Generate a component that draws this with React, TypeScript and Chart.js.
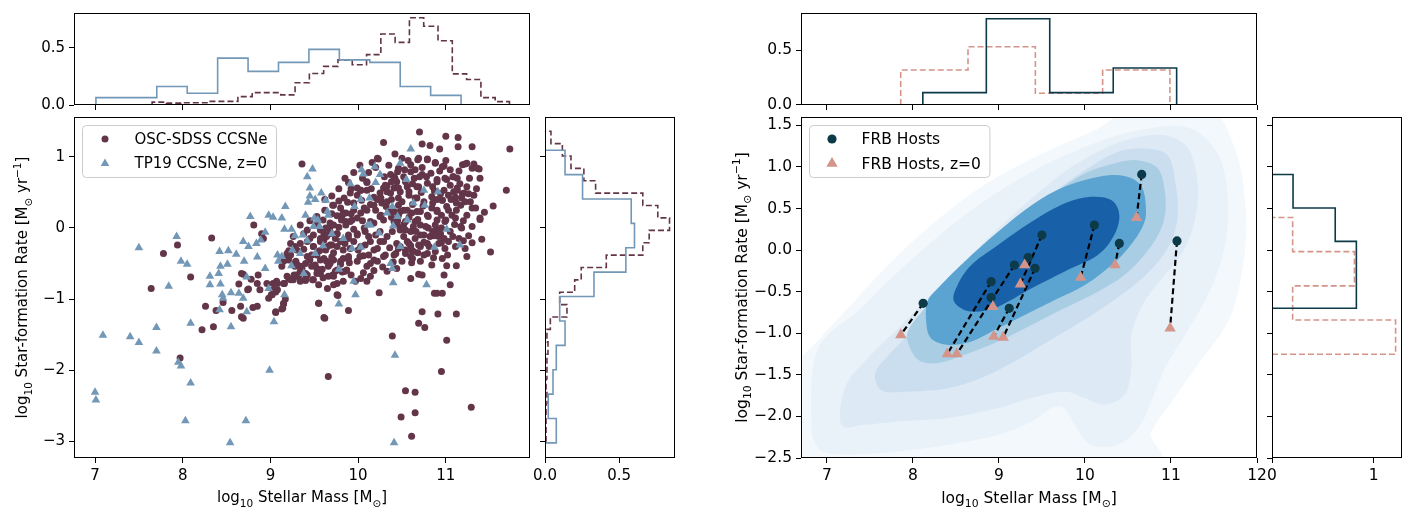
import React, { useEffect, useRef } from 'react';
import { Chart, registerables } from 'chart.js';
Chart.register(...registerables);

const W = 1420;
const H = 512;
const FONT = "'DejaVu Sans', sans-serif";
const FS_L = 15;
const FS_R = 15.5;
const AXW = 70;
const AXH = 50;

const MAROON = '#633548';
const STEEL = '#7398b7';
const TEAL = '#0c3a48';
const PINK = '#d4948a';

// ---------------- data: left panel scatter ----------------
const oscCCSNe: [number, number][] = [
  [7.64,-0.85],[7.78,-0.36],[7.94,-0.24],[7.97,-1.83],[8.09,-0.69],[8.26,-1.10],[8.33,-0.14],[8.22,-1.43],[8.35,-1.39],[8.38,-1.16],
  [8.46,-1.05],[8.56,-1.16],[8.64,-0.79],[8.66,-1.10],[8.69,-0.65],[8.69,-1.27],[8.74,-0.87],[8.78,-0.72],[8.80,-1.12],[8.85,-1.10],
  [8.81,0.04],[8.85,-0.78],[8.86,-0.66],[8.88,-0.87],[8.90,-0.08],[8.92,-0.15],[8.98,-0.99],[9.01,-0.94],[9.03,-0.78],[9.06,-0.90],
  [9.07,-0.77],[9.08,-0.87],[9.06,-1.18],[9.14,-1.13],[9.15,-1.06],[9.16,-0.78],[9.17,-0.44],[9.21,-0.32],[9.28,-0.26],[9.30,-0.51],[9.32,-0.68],
  [9.71,0.32],[8.67,-0.64],[8.75,-0.86],[8.96,-0.78],[9.07,-0.75],[9.04,-0.87],[9.02,-0.94],[8.67,-1.25],[9.06,-1.19],[9.29,-0.47],
  [9.36,-0.57],[9.30,-0.68],[9.23,-0.73],[9.42,-0.66],[9.49,-0.73],[9.55,-1.06],[9.61,-1.26],[9.66,-0.54],[9.76,-0.78],[9.76,-0.94],
  [9.72,-0.68],[9.57,-0.64],[9.72,-0.45],[9.53,-0.38],[9.61,-0.17],[9.70,-0.24],[9.61,-0.08],[9.76,-0.08],[9.68,0.02],[9.81,0.11],[9.83,0.21],
  [9.36,0.90],[10.29,1.20],[10.70,1.35],[11.00,1.29],[11.14,1.27],[10.73,1.18],[10.82,1.16],[10.93,1.11],[11.14,1.14],[11.30,1.14],
  [11.73,1.11],[10.42,1.04],[10.23,0.97],[11.69,0.53],[11.54,0.31],[11.41,-0.16],[11.51,-0.34],[11.30,-0.21],[11.26,-0.11],[11.17,0.02],
  [11.39,0.12],[11.44,0.22],[11.39,0.70],[11.38,0.83],[11.32,0.90],[11.22,0.90],[11.24,-0.40],[11.12,-0.53],[11.05,-0.80],[10.98,-0.66],
  [10.96,-0.92],[10.90,-0.92],[10.87,-0.92],[11.01,-0.53],[10.95,-0.21],[10.87,-0.11],[10.69,-0.65],[10.73,-0.66],[10.60,-0.71],[10.61,-0.49],
  [10.84,-0.52],[10.73,-1.18],[10.69,-1.34],[10.76,-1.40],[10.91,-1.21],[11.12,-1.21],[11.01,-1.58],[10.39,-1.52],[10.95,-2.02],[9.66,-2.09],
  [10.54,-2.29],[10.65,-2.31],[10.65,-2.60],[10.49,-2.66],[10.61,-2.93],[11.29,-2.52],[10.24,-0.91],[10.10,-0.75],[10.03,-0.71],[9.89,-1.16],
  [9.77,-0.95],[9.62,-1.27],[9.55,-1.06],[9.72,-0.80],[9.83,-0.75],[9.90,-0.49],[9.85,-0.61],[10.06,-0.63],[10.14,-0.50],[10.18,-0.45],
  [9.71,-0.66],[9.66,-0.68],[9.59,-0.58],[9.48,-0.73],[9.40,-0.74],[9.34,-0.75],[9.26,-0.73],[9.21,-0.71],[9.15,-0.78],[9.17,-1.00],
  [9.13,-1.14],[9.15,-1.07],[9.30,-0.66],[9.40,-0.64],[9.57,-0.45],[9.47,-0.54],[9.53,-0.57],[9.63,-0.31],[9.70,-0.41],[9.80,-0.51],
  [9.83,-0.43],[9.89,-0.40],[9.68,-0.24],[9.74,-0.15],[9.68,-0.05],[9.78,0.01],[9.76,0.17],[9.80,0.28],[9.72,0.32],[9.89,0.64],
  [9.99,0.56],[10.03,0.53],[10.10,0.64],[10.10,0.53],[10.18,0.43],[10.25,0.49],[10.29,0.56],[10.33,0.59],[10.41,0.72],[10.45,0.79],
  [10.53,0.82],[10.60,0.79],[10.65,0.82],[10.68,0.96],[10.79,0.97],[10.88,0.92],[10.98,0.87],[11.08,0.72],[11.13,0.70],[11.13,0.56],
  [11.11,0.43],[11.22,0.37],[11.30,0.28],[11.32,0.46],[11.24,0.58],[11.19,0.48],[11.01,0.68],[10.90,0.68],[10.79,0.63],[10.69,0.58],
  [10.98,0.53],[11.09,0.51],[10.96,0.39],[10.85,0.35],[10.90,0.25],[11.01,0.30],[11.07,0.18],[11.00,0.11],[10.90,0.11],[10.80,0.16],
  [10.71,0.23],[10.61,0.21],[10.52,0.25],[10.46,0.32],[10.48,0.51],[10.58,0.46],[10.67,0.42],[10.56,0.58],[10.37,0.49],[10.27,0.35],
  [10.33,0.37],[10.41,0.23],[10.29,0.11],[10.44,0.04],[10.54,-0.03],[10.63,0.02],[10.71,0.04],[10.80,0.00],[10.90,-0.03],[10.75,-0.10],
  [10.65,-0.15],[10.56,-0.19],[10.44,-0.22],[10.61,-0.31],[10.71,-0.26],[10.79,-0.22],[10.79,-0.36],[10.54,-0.31],[10.43,-0.36],[10.29,-0.40],
  [10.18,-0.31],[10.08,-0.24],[10.00,-0.31],[10.06,-0.39],[9.95,-0.19],[9.89,-0.10],[9.99,-0.08],[10.08,-0.05],[10.20,-0.10],[10.25,-0.19],
  [10.33,-0.12],[10.18,0.07],[10.25,0.16],[10.20,0.25],[10.10,0.25],[10.03,0.21],[9.93,0.11],[9.86,0.04],[9.86,0.21],[9.95,0.35],
  [10.04,0.39],[9.99,0.46],[9.84,0.42],[9.91,0.49],[10.14,0.33],[9.68,0.07],[9.60,0.11],[9.53,0.16],[9.57,-0.03],[9.49,-0.10],
  [9.42,-0.03],[9.34,0.04],[9.26,-0.12],[9.34,-0.22],[9.23,-0.22],[9.30,-0.31],[9.19,-0.36],[9.42,-0.40],[9.49,-0.26],[9.57,-0.19],
  [9.76,-0.26],[9.83,-0.31],[9.64,-0.47],[9.76,-0.59],[9.13,-0.54],[9.21,-0.45],[9.28,-0.50],[9.34,-0.54],
  [10.22,0.98],[10.10,0.65],[10.03,0.53],[9.82,0.18],[9.86,0.09],[9.72,0.04],[9.68,-0.08],[9.76,-0.08],[9.63,0.00],[9.57,-0.15],
  [9.80,-0.19],[9.89,-0.15],[9.99,-0.10],[9.91,-0.29],[10.03,-0.26],[10.14,-0.19],[10.22,-0.29],[10.29,-0.19],[10.39,-0.05],[10.41,0.09],
  [10.35,0.23],[10.26,0.18],[10.18,0.32],[10.26,0.42],[10.33,0.51],[10.41,0.56],[10.31,0.60],[10.37,0.75],[10.46,0.84],[10.44,0.65],
  [10.14,0.09],[10.07,0.00],[9.99,0.14],[9.91,0.09],[10.07,0.28],[9.95,0.25],[9.47,-0.38],[9.40,-0.50],[9.51,-0.52],[9.61,-0.43],
  [9.68,-0.50],[9.53,-0.64],[9.34,-0.61],[9.27,-0.66],[9.28,-0.54],[9.19,-0.68],[9.40,-0.71],[9.65,-0.26],[9.49,-0.26],[9.42,-0.19],
  [9.23,-0.38],[9.15,-0.47],[9.89,-0.43],[9.80,-0.47],[9.99,-0.47],[9.74,-0.61],[9.87,-0.59],[10.10,-0.54],[10.22,-0.47],[10.31,-0.38],
  [10.41,-0.38],[10.46,-0.29],[10.44,-0.57],[10.33,-0.61],[10.14,-0.68],[9.97,-0.75],[10.48,0.23],[10.48,0.00],[10.46,0.42],[9.55,-0.80],
  [9.65,-0.85],[9.08,-0.78],[9.04,-0.87],
  [10.50,0.98],[10.60,0.89],[10.69,0.98],[10.79,0.96],[10.88,0.91],[10.96,0.86],[10.83,0.77],[10.73,0.75],[10.64,0.70],[10.54,0.65],
  [10.46,0.56],[10.58,0.51],[10.67,0.58],[10.90,0.65],[10.99,0.70],[11.09,0.72],[11.19,0.89],[11.24,0.91],[11.30,0.84],[11.36,0.84],
  [11.13,0.53],[11.21,0.49],[11.03,0.46],[10.96,0.39],[10.84,0.44],[10.75,0.37],[10.65,0.42],[10.50,0.37],[10.56,0.25],[10.67,0.23],
  [10.79,0.18],[10.90,0.23],[11.03,0.25],[11.17,0.32],[11.28,0.37],[11.34,0.28],[11.39,0.14],[11.24,0.18],[11.11,0.14],[10.99,0.09],
  [10.88,0.04],[10.77,0.02],[10.65,0.09],[10.54,0.09],[10.46,0.18],[10.48,-0.03],[10.60,-0.05],[10.71,-0.10],[10.82,-0.12],[10.94,-0.08],
  [11.05,-0.05],[11.18,0.00],[11.15,-0.15],[11.03,-0.19],[10.92,-0.22],[10.81,-0.26],[10.69,-0.24],[10.58,-0.22],[10.48,-0.26],[10.54,-0.36],
  [10.63,-0.33],[10.75,-0.38],[10.88,-0.33],[10.99,-0.29],[11.11,-0.26],[11.22,-0.29],[10.50,-0.47],[10.62,-0.43],[10.71,-0.47],[10.96,-0.43],
  [9.62,0.25],[9.70,0.45],[9.78,0.55],[9.85,0.70],[9.95,0.78],[10.02,0.88],[10.12,0.78],[10.16,0.92],[10.35,0.88],[10.38,0.65],
  [10.52,0.72],[10.57,0.95],[10.62,0.62],[10.73,0.85],[10.78,0.72],[10.85,0.58],[10.93,0.80],[11.05,0.82],[11.05,0.60],[11.16,0.62],
  [11.27,0.70],[11.35,0.55],[11.26,0.48],[11.12,0.35],[11.06,0.40],[10.94,0.48],[10.87,0.52],[10.72,0.50],[10.62,0.33],[10.58,0.15],
  [10.68,0.12],[10.74,0.31],[10.84,0.28],[10.95,0.18],[11.12,0.25],[11.20,0.10],[11.30,0.02],[11.10,0.05],[10.95,0.00],[10.85,-0.05],
  [10.66,-0.05],[10.52,0.05],[10.38,0.15],[10.32,0.30],[10.22,0.40],[10.15,0.55],[10.05,0.70],[9.92,0.55],[9.88,0.36],[9.78,0.38],
  [9.70,0.20],[9.64,-0.12],[9.72,-0.35],[9.85,-0.22],[9.95,-0.02],[10.05,0.10],[10.12,-0.12],[10.02,-0.40],[10.12,-0.38],[10.25,-0.05],
  [10.36,-0.28],[10.52,-0.12],[10.60,-0.40],[10.68,-0.35],[10.86,-0.42],[10.92,-0.12],[11.02,-0.38],[11.08,-0.12],[11.20,-0.18],[10.40,-0.48],
  [10.28,-0.55],[10.18,-0.60],[9.92,-0.66],[9.82,-0.62],[9.60,-0.70],[9.45,-0.45],[9.38,-0.30],[9.45,-0.15],[9.52,0.05],[9.45,0.10],
  [9.38,-0.08],[9.56,-0.32],[9.62,0.40],[9.92,0.20],[10.38,0.40],[10.42,0.70],[10.30,0.72],[10.20,0.85],[10.90,0.40],[11.15,0.80],
  [11.00,0.95],[10.70,0.72],[10.45,0.10],[10.60,-0.25],[10.75,-0.20],[10.98,-0.15],[11.18,0.42],
];

const tp19CCSNe: [number, number][] = [
  [7.00,-2.31],[7.01,-2.42],[7.09,-1.51],[7.40,-1.53],[7.50,-1.61],[7.50,-0.28],[7.70,-1.73],[7.95,-1.89],[7.98,-1.94],[8.09,-2.18],
  [8.03,-2.71],[8.54,-3.02],[8.72,-2.71],[8.99,-2.00],[9.03,0.15],
  [7.93,-0.12],[7.98,-0.47],[8.05,-0.51],[7.84,-0.82],[7.70,-1.40],[8.09,-1.34],[8.55,-1.39],[8.42,-0.33],[8.52,-0.32],[8.61,-0.37],
  [8.43,-0.54],[8.41,-0.64],[8.31,-0.68],[8.43,-0.79],[8.31,-0.80],[8.45,-0.94],[8.46,-0.99],[8.55,-0.91],[8.64,-0.92],[8.69,-0.99],
  [8.51,-0.51],[8.70,-0.47],[8.73,-0.69],[8.85,-0.41],[8.69,-0.19],[8.77,0.16],[8.98,0.18],[8.75,-0.26],[8.84,-0.22],[8.89,-0.17],
  [8.94,-0.06],[9.08,-0.38],[9.09,-0.47],[8.94,-0.57],[8.98,-0.85],[8.73,-1.18],[9.04,-1.32],[8.42,-1.15],
  [9.48,0.83],[9.42,0.72],[9.45,0.56],[9.45,0.45],[9.43,0.36],[9.51,0.40],[9.58,0.49],[9.63,0.39],[9.17,0.30],[9.13,0.14],
  [9.16,-0.02],[9.24,-0.02],[9.28,-0.11],[9.37,-0.10],[9.40,0.18],[9.50,0.14],[9.54,0.11],[9.49,0.02],[9.56,0.02],[9.65,0.23],
  [9.66,0.18],[9.70,-0.08],[9.83,-0.15],[9.93,-0.29],[10.03,-0.27],[9.42,-0.18],[9.60,-0.25],[9.51,-0.36],[9.34,-0.36],[9.25,-0.31],
  [9.13,-0.40],[9.24,-0.53],[9.38,-0.64],[9.16,-0.94],[9.78,-0.58],[9.95,-0.75],[9.97,-0.94],[9.78,-1.07],[9.91,0.62],[10.04,0.82],
  [10.06,0.76],[10.19,0.86],[10.25,0.75],[10.20,0.64],[10.03,0.40],[10.13,0.42],[9.96,0.30],[10.14,0.04],[10.33,0.21],[10.39,0.30],
  [10.11,0.04],[10.24,-0.07],[10.40,0.03],[10.45,0.16],[10.56,0.11],[10.48,0.91],[10.60,1.11],[10.55,0.68],[10.63,0.35],[10.75,0.53],
  [10.76,0.32],[10.91,0.51],[11.01,-0.02],[10.48,-0.26],[10.37,-0.50],[10.39,-0.57],[10.40,-0.77],[10.87,-0.27],[11.16,-0.24],[10.78,-0.80],
  [10.42,-1.79],[10.41,-3.02],
];

// ---------------- data: left panel histograms (density) ----------------
const tp19MassEdges = [7.01,7.357,7.704,8.051,8.398,8.745,9.092,9.439,9.786,10.133,10.48,10.827,11.174];
const tp19MassDensity = [0.065,0.065,0.162,0.103,0.411,0.295,0.373,0.487,0.395,0.373,0.162,0.084];
const oscMassEdges = [7.651,7.814,7.977,8.14,8.303,8.466,8.629,8.792,8.955,9.118,9.281,9.444,9.607,9.77,9.933,10.096,10.259,10.422,10.585,10.748,10.911,11.074,11.237,11.4,11.563,11.726];
const oscMassDensity = [0.025,0.016,0.02,0.02,0.032,0.032,0.073,0.108,0.108,0.089,0.195,0.276,0.338,0.395,0.352,0.441,0.622,0.549,0.765,0.69,0.563,0.273,0.224,0.065,0.03];
const tp19SfrEdges = [-3.023,-2.68,-2.337,-1.994,-1.651,-1.308,-0.965,-0.622,-0.279,0.064,0.407,0.75,1.093];
const tp19SfrDensity = [0.076,0.022,0.054,0.076,0.135,0.099,0.33,0.545,0.603,0.581,0.253,0.135];
const oscSfrEdges = [-2.995,-2.821,-2.647,-2.472,-2.298,-2.124,-1.95,-1.776,-1.601,-1.427,-1.253,-1.079,-0.905,-0.73,-0.556,-0.382,-0.208,-0.034,0.141,0.315,0.489,0.663,0.837,1.011,1.186,1.36];
const oscSfrDensity = [0.007,0.007,0.007,0.013,0.007,0.013,0.013,0.02,0.013,0.036,0.148,0.099,0.2,0.244,0.413,0.659,0.702,0.839,0.76,0.659,0.341,0.262,0.175,0.117,0.04];

// ---------------- data: right panel ----------------
const frbHosts: [number, number][] = [
  [8.12,-0.64],[8.91,-0.38],[9.18,-0.18],[8.91,-0.57],[9.12,-0.70],[9.42,-0.22],
  [9.34,-0.09],[9.50,0.18],[10.11,0.30],[10.40,0.08],[10.66,0.91],[11.07,0.11],
];
const frbHostsZ0: [number, number][] = [
  [7.86,-1.02],[8.40,-1.25],[8.51,-1.25],[8.93,-0.68],[8.94,-1.04],[9.05,-1.05],
  [9.30,-0.18],[9.25,-0.41],[9.95,-0.33],[10.35,-0.18],[10.60,0.39],[10.99,-0.94],
];
const frbMassEdges = [8.116,8.854,9.591,10.329,11.066];
const frbMassDensity = [0.113,0.79,0.113,0.339];
const z0MassEdges = [7.859,8.641,9.424,10.206,10.988];
const z0MassDensity = [0.32,0.533,0.107,0.32];
const frbSfrEdges = [-0.7,-0.298,0.104,0.506,0.908];
const frbSfrDensity = [0.83,0.83,0.622,0.207];
const z0SfrEdges = [-1.252,-0.841,-0.43,-0.019,0.392];
const z0SfrDensity = [1.216,0.203,0.811,0.203];

// KDE filled-contour levels (outer -> inner)
const kdeColors = ['#f3f8fc','#e9f1f9','#dde9f5','#cadef0','#a9cee4','#5ba3d0','#1860a8'];
const kdeL1: [number, number][] = [[6.55,-2.65],[6.55,-1.35],[6.69,-1.3],[7.2,-0.75],[7.83,-0.06],[8.6,0.62],[9.38,1.1],[10.15,1.46],[10.54,1.7],[11.43,1.7],[11.75,1.2],[11.86,0.6],[11.86,0.0],[11.7,-0.78],[11.31,-1.38],[11.04,-1.78],[10.77,-2.18],[10.54,-2.65]];
const kdeL2: [number, number][] = [[6.82,-1.98],[6.9,-1.18],[7.4,-0.7],[7.83,-0.26],[8.6,0.42],[9.38,0.94],[10.15,1.3],[10.73,1.46],[11.23,1.46],[11.55,1.14],[11.66,0.62],[11.62,0.02],[11.43,-0.54],[11.16,-1.02],[10.93,-1.42],[10.77,-1.82],[10.62,-2.14],[10.38,-2.34],[10.07,-2.34],[9.88,-2.1],[9.76,-1.9],[9.61,-1.9],[9.38,-2.06],[8.99,-2.22],[8.41,-2.34],[7.83,-2.42],[7.24,-2.46],[6.9,-2.38]];
const kdeL3: [number, number][] = [[7.17,-2.1],[7.21,-1.66],[7.44,-1.34],[7.83,-0.94],[8.21,-0.54],[8.6,-0.14],[8.99,0.26],[9.38,0.62],[9.76,0.94],[10.15,1.18],[10.54,1.34],[10.93,1.38],[11.2,1.22],[11.31,0.82],[11.29,0.42],[11.16,0.02],[10.93,-0.3],[10.69,-0.62],[10.54,-1.02],[10.54,-1.42],[10.46,-1.74],[10.23,-1.86],[10.0,-1.78],[9.76,-1.7],[9.38,-1.78],[8.99,-1.9],[8.41,-2.02],[7.83,-2.06],[7.44,-2.1]];
const kdeL4: [number, number][] = [[7.57,-1.58],[7.59,-1.42],[7.83,-1.14],[8.14,-0.82],[8.48,-0.46],[8.87,-0.06],[9.26,0.34],[9.65,0.7],[10.03,0.98],[10.38,1.18],[10.69,1.22],[10.96,1.14],[11.05,0.82],[11.08,0.42],[11.0,0.1],[10.85,-0.14],[10.62,-0.38],[10.31,-0.62],[9.96,-0.86],[9.57,-1.1],[9.18,-1.34],[8.79,-1.54],[8.41,-1.66],[7.98,-1.7],[7.67,-1.7]];
const kdeL5: [number, number][] = [[7.94,-1.1],[7.96,-0.94],[8.14,-0.7],[8.41,-0.42],[8.79,-0.06],[9.18,0.3],[9.57,0.62],[9.96,0.9],[10.34,1.04],[10.61,1.08],[10.85,0.98],[10.93,0.7],[10.93,0.42],[10.85,0.18],[10.69,-0.06],[10.46,-0.3],[10.15,-0.5],[9.76,-0.7],[9.38,-0.9],[8.99,-1.1],[8.6,-1.26],[8.29,-1.36],[8.06,-1.32]];
const kdeL6: [number, number][] = [[8.155,-0.86],[8.17,-0.62],[8.29,-0.46],[8.6,-0.14],[8.99,0.22],[9.38,0.54],[9.76,0.76],[10.15,0.88],[10.46,0.89],[10.66,0.76],[10.71,0.46],[10.66,0.26],[10.5,0.02],[10.31,-0.18],[10.0,-0.42],[9.61,-0.62],[9.3,-0.78],[8.99,-0.94],[8.68,-1.1],[8.41,-1.14],[8.21,-1.06]];
const kdeL7: [number, number][] = [[8.48,-0.62],[8.52,-0.42],[8.68,-0.18],[8.99,0.06],[9.38,0.34],[9.76,0.56],[10.07,0.64],[10.31,0.6],[10.4,0.42],[10.34,0.18],[10.15,-0.06],[9.76,-0.26],[9.38,-0.46],[8.99,-0.68],[8.68,-0.74]];
const kdeLevels = [kdeL1, kdeL2, kdeL3, kdeL4, kdeL5, kdeL6, kdeL7];

// ---------------- ticks ----------------
const massTicksLeft = [7, 8, 9, 10, 11];
const sfrTicksLeft = [-3, -2, -1, 0, 1];
const massTicksRight = [7, 8, 9, 10, 11, 12];
const sfrTicksRight = [-2.5, -2, -1.5, -1, -0.5, 0, 0.5, 1, 1.5];
const densTicksHalf = [0, 0.5];
const densTicksUnit = [0, 1];

// ---------------- helpers ----------------
type Box = { l: number; t: number; r: number; b: number };
const BOX = {
  lMain: { l: 74, t: 117, r: 530, b: 458 },
  lTop: { l: 74, t: 7, r: 530, b: 105 },
  lSide: { l: 545, t: 117, r: 675, b: 458 },
  rMain: { l: 801, t: 117, r: 1257, b: 458 },
  rTop: { l: 801, t: 7, r: 1257, b: 105 },
  rSide: { l: 1272, t: 117, r: 1402, b: 458 },
};

const MINUS = '\u2212';
const fmtInt = (v: number) => (v < 0 ? MINUS : '') + String(Math.abs(v));
const fmt1 = (v: number) => (v < 0 ? MINUS : '') + Math.abs(v).toFixed(1);

function axis(pos: 'x' | 'y', min: number, max: number, ticks: number[], labels: ((v: number) => string) | null, fs: number) {
  return {
    type: 'linear',
    position: pos === 'x' ? 'bottom' : 'left',
    min,
    max,
    afterBuildTicks: (s: any) => {
      s.ticks = ticks.map((v) => ({ value: v }));
    },
    afterFit: (s: any) => {
      if (pos === 'x') s.height = AXH;
      else s.width = AXW;
    },
    grid: { display: true, drawOnChartArea: false, drawTicks: true, tickLength: 5, color: '#000', lineWidth: 1 },
    border: { display: false },
    ticks: {
      display: !!labels,
      autoSkip: false,
      maxRotation: 0,
      minRotation: 0,
      padding: 4,
      color: '#000',
      font: { family: FONT, size: fs },
      callback: (v: any) => (labels ? labels(Number(v)) : ''),
    },
  };
}

function stepV(edges: number[], h: number[]) {
  const pts: { x: number; y: number }[] = [{ x: edges[0], y: 0 }];
  h.forEach((v, i) => {
    pts.push({ x: edges[i], y: v }, { x: edges[i + 1], y: v });
  });
  pts.push({ x: edges[edges.length - 1], y: 0 });
  return pts;
}
function stepH(edges: number[], h: number[]) {
  const pts: { x: number; y: number }[] = [{ x: 0, y: edges[0] }];
  h.forEach((v, i) => {
    pts.push({ x: v, y: edges[i] }, { x: v, y: edges[i + 1] });
  });
  pts.push({ x: 0, y: edges[edges.length - 1] });
  return pts;
}
function histDs(pts: { x: number; y: number }[], color: string, dashed: boolean) {
  return {
    data: pts,
    showLine: true,
    pointRadius: 0,
    borderColor: color,
    borderWidth: 1.6,
    borderDash: dashed ? [6, 3] : [],
    fill: false,
    tension: 0,
  };
}
function scatterDs(pts: [number, number][], color: string, style: string, r: number) {
  return {
    data: pts.map(([x, y]) => ({ x, y })),
    pointStyle: style,
    pointRadius: r,
    backgroundColor: color,
    borderColor: color,
    borderWidth: 0,
    showLine: false,
  };
}

const framePlugin = {
  id: 'frame',
  afterDatasetsDraw(chart: any) {
    const { ctx, chartArea: a } = chart;
    ctx.save();
    ctx.strokeStyle = '#000';
    ctx.lineWidth = 1;
    ctx.strokeRect(Math.round(a.left) + 0.5, Math.round(a.top) + 0.5, Math.round(a.right - a.left) - 1, Math.round(a.bottom - a.top) - 1);
    ctx.restore();
  },
};

type Seg = { t: string; s?: 'sub' | 'sup' };
const X_TITLE: Seg[] = [{ t: 'log' }, { t: '10', s: 'sub' }, { t: ' Stellar Mass [M' }, { t: '\u2299', s: 'sub' }, { t: ']' }];
const Y_TITLE: Seg[] = [{ t: 'log' }, { t: '10', s: 'sub' }, { t: ' Star-formation Rate [M' }, { t: '\u2299', s: 'sub' }, { t: ' yr' }, { t: MINUS + '1', s: 'sup' }, { t: ']' }];

function drawRich(ctx: CanvasRenderingContext2D, segs: Seg[], cx: number, cy: number, rot: boolean, fs: number) {
  ctx.save();
  ctx.translate(cx, cy);
  if (rot) ctx.rotate(-Math.PI / 2);
  const small = fs * 0.7;
  const widths = segs.map((sg) => {
    ctx.font = `${sg.s ? small : fs}px ${FONT}`;
    return ctx.measureText(sg.t).width;
  });
  const total = widths.reduce((a, b) => a + b, 0);
  let x = -total / 2;
  ctx.fillStyle = '#000';
  ctx.textAlign = 'left';
  ctx.textBaseline = 'alphabetic';
  const base = fs * 0.36;
  segs.forEach((sg, i) => {
    ctx.font = `${sg.s ? small : fs}px ${FONT}`;
    const dy = sg.s === 'sub' ? fs * 0.28 : sg.s === 'sup' ? -fs * 0.45 : 0;
    ctx.fillText(sg.t, x, base + dy);
    x += widths[i];
  });
  ctx.restore();
}

function titlesPlugin(yOff: number, fs: number) {
  return {
    id: 'axTitles',
    afterDraw(chart: any) {
      const { ctx, chartArea: a } = chart;
      drawRich(ctx, X_TITLE, (a.left + a.right) / 2, a.bottom + 39, false, fs);
      drawRich(ctx, Y_TITLE, a.left - yOff, (a.top + a.bottom) / 2, true, fs);
    },
  };
}

function drawMarker(ctx: CanvasRenderingContext2D, style: string, x: number, y: number, r: number, color: string) {
  ctx.fillStyle = color;
  ctx.beginPath();
  if (style === 'triangle') {
    const s = Math.sin(Math.PI / 3) * r;
    ctx.moveTo(x, y - r);
    ctx.lineTo(x + s, y + r / 2);
    ctx.lineTo(x - s, y + r / 2);
    ctx.closePath();
  } else {
    ctx.arc(x, y, r, 0, Math.PI * 2);
  }
  ctx.fill();
}

type LegItem = { label: string; style: string; color: string; r: number };
function legendPlugin(items: LegItem[], fs: number) {
  return {
    id: 'mplLegend',
    afterDatasetsDraw(chart: any) {
      const { ctx, chartArea: a } = chart;
      ctx.save();
      ctx.font = `${fs}px ${FONT}`;
      const tw = Math.max(...items.map((it) => ctx.measureText(it.label).width));
      const x0 = a.left + 8.5;
      const y0 = a.top + 8.5;
      const w = 52 + tw + 9;
      const h = 52;
      ctx.beginPath();
      (ctx as any).roundRect(x0, y0, w, h, 4);
      ctx.fillStyle = 'rgba(255,255,255,0.8)';
      ctx.fill();
      ctx.strokeStyle = '#cccccc';
      ctx.lineWidth = 1;
      ctx.stroke();
      items.forEach((it, i) => {
        const cy = y0 + 13.5 + i * 24.5;
        drawMarker(ctx, it.style, x0 + 22.5, cy, it.r, it.color);
        ctx.fillStyle = '#000';
        ctx.font = `${fs}px ${FONT}`;
        ctx.textAlign = 'left';
        ctx.textBaseline = 'middle';
        ctx.fillText(it.label, x0 + 52, cy + 1);
      });
      ctx.restore();
    },
  };
}

function smoothClosed(ctx: CanvasRenderingContext2D, p: number[][]) {
  const n = p.length;
  ctx.moveTo(p[0][0], p[0][1]);
  for (let i = 0; i < n; i++) {
    const p0 = p[(i - 1 + n) % n];
    const p1 = p[i];
    const p2 = p[(i + 1) % n];
    const p3 = p[(i + 2) % n];
    ctx.bezierCurveTo(
      p1[0] + (p2[0] - p0[0]) / 6, p1[1] + (p2[1] - p0[1]) / 6,
      p2[0] - (p3[0] - p1[0]) / 6, p2[1] - (p3[1] - p1[1]) / 6,
      p2[0], p2[1]
    );
  }
  ctx.closePath();
}

const kdePlugin = {
  id: 'kde',
  beforeDatasetsDraw(chart: any) {
    const { ctx, chartArea: a, scales } = chart;
    ctx.save();
    ctx.beginPath();
    ctx.rect(a.left, a.top, a.right - a.left, a.bottom - a.top);
    ctx.clip();
    kdeLevels.forEach((poly, i) => {
      const px = poly.map(([x, y]) => [scales.x.getPixelForValue(x), scales.y.getPixelForValue(y)]);
      ctx.beginPath();
      smoothClosed(ctx, px);
      ctx.fillStyle = kdeColors[i];
      ctx.fill();
    });
    ctx.restore();
  },
};

function build(canvas: HTMLCanvasElement, box: Box, scales: any, datasets: any[], plugins: any[]) {
  return new Chart(canvas, {
    type: 'scatter',
    data: { datasets },
    options: {
      responsive: false,
      animation: false,
      events: [],
      devicePixelRatio: 1,
      layout: { padding: { left: box.l - AXW, top: box.t, right: W - box.r, bottom: H - box.b - AXH } },
      scales,
      plugins: { legend: { display: false }, tooltip: { enabled: false } },
    } as any,
    plugins: [framePlugin, ...plugins],
  } as any);
}

export default function App() {
  const refs = useRef<(HTMLCanvasElement | null)[]>([]);

  useEffect(() => {
    Chart.defaults.font.family = FONT;
    Chart.defaults.color = '#000';
    const c = refs.current as HTMLCanvasElement[];
    const LX: [number, number] = [6.76, 11.96];
    const LY: [number, number] = [-3.235, 1.56];
    const RX: [number, number] = [6.7, 12.0];
    const RY: [number, number] = [-2.5, 1.6];

    const charts: Chart[] = [];
    charts.push(
      build(c[0], BOX.lMain,
        { x: axis('x', LX[0], LX[1], massTicksLeft, fmtInt, FS_L), y: axis('y', LY[0], LY[1], sfrTicksLeft, fmtInt, FS_L) },
        [scatterDs(tp19CCSNe, STEEL, 'triangle', 5.0), scatterDs(oscCCSNe, MAROON, 'circle', 3.5)],
        [titlesPlugin(52, FS_L), legendPlugin([
          { label: 'OSC-SDSS CCSNe', style: 'circle', color: MAROON, r: 3.5 },
          { label: 'TP19 CCSNe, z=0', style: 'triangle', color: STEEL, r: 5.0 },
        ], FS_L)])
    );
    charts.push(
      build(c[1], BOX.lTop,
        { x: axis('x', LX[0], LX[1], massTicksLeft, null, FS_L), y: axis('y', 0, 0.806, densTicksHalf, fmt1, FS_L) },
        [histDs(stepV(tp19MassEdges, tp19MassDensity), STEEL, false), histDs(stepV(oscMassEdges, oscMassDensity), MAROON, true)],
        [])
    );
    charts.push(
      build(c[2], BOX.lSide,
        { x: axis('x', 0, 0.876, densTicksHalf, fmt1, FS_L), y: axis('y', LY[0], LY[1], sfrTicksLeft, null, FS_L) },
        [histDs(stepH(tp19SfrEdges, tp19SfrDensity), STEEL, false), histDs(stepH(oscSfrEdges, oscSfrDensity), MAROON, true)],
        [])
    );
    const pairLines = frbHosts.map((p, i) => ({
      data: [{ x: p[0], y: p[1] }, { x: frbHostsZ0[i][0], y: frbHostsZ0[i][1] }],
      showLine: true,
      pointRadius: 0,
      borderColor: '#000',
      borderWidth: 2.2,
      borderDash: [6, 3.5],
      fill: false,
    }));
    charts.push(
      build(c[3], BOX.rMain,
        { x: axis('x', RX[0], RX[1], massTicksRight, fmtInt, FS_R), y: axis('y', RY[0], RY[1], sfrTicksRight, fmt1, FS_R) },
        [scatterDs(frbHostsZ0, PINK, 'triangle', 6.6), scatterDs(frbHosts, TEAL, 'circle', 4.6), ...pairLines],
        [kdePlugin, titlesPlugin(60, FS_R), legendPlugin([
          { label: 'FRB Hosts', style: 'circle', color: TEAL, r: 4.6 },
          { label: 'FRB Hosts, z=0', style: 'triangle', color: PINK, r: 6.6 },
        ], FS_R)])
    );
    charts.push(
      build(c[4], BOX.rTop,
        { x: axis('x', RX[0], RX[1], massTicksRight, null, FS_R), y: axis('y', 0, 0.84, densTicksHalf, fmt1, FS_R) },
        [histDs(stepV(frbMassEdges, frbMassDensity), TEAL, false), histDs(stepV(z0MassEdges, z0MassDensity), PINK, true)],
        [])
    );
    charts.push(
      build(c[5], BOX.rSide,
        { x: axis('x', 0, 1.279, densTicksUnit, fmtInt, FS_R), y: axis('y', RY[0], RY[1], sfrTicksRight, null, FS_R) },
        [histDs(stepH(frbSfrEdges, frbSfrDensity), TEAL, false), histDs(stepH(z0SfrEdges, z0SfrDensity), PINK, true)],
        [])
    );
    return () => charts.forEach((ch) => ch.destroy());
  }, []);

  return (
    <div style={{ position: 'absolute', left: 0, top: 0, width: W, height: H, background: '#fff', overflow: 'hidden' }}>
      {[0, 1, 2, 3, 4, 5].map((i) => (
        <canvas
          key={i}
          ref={(el) => {
            refs.current[i] = el;
          }}
          width={W}
          height={H}
          style={{ position: 'absolute', left: 0, top: 0, width: W, height: H }}
        />
      ))}
    </div>
  );
}
